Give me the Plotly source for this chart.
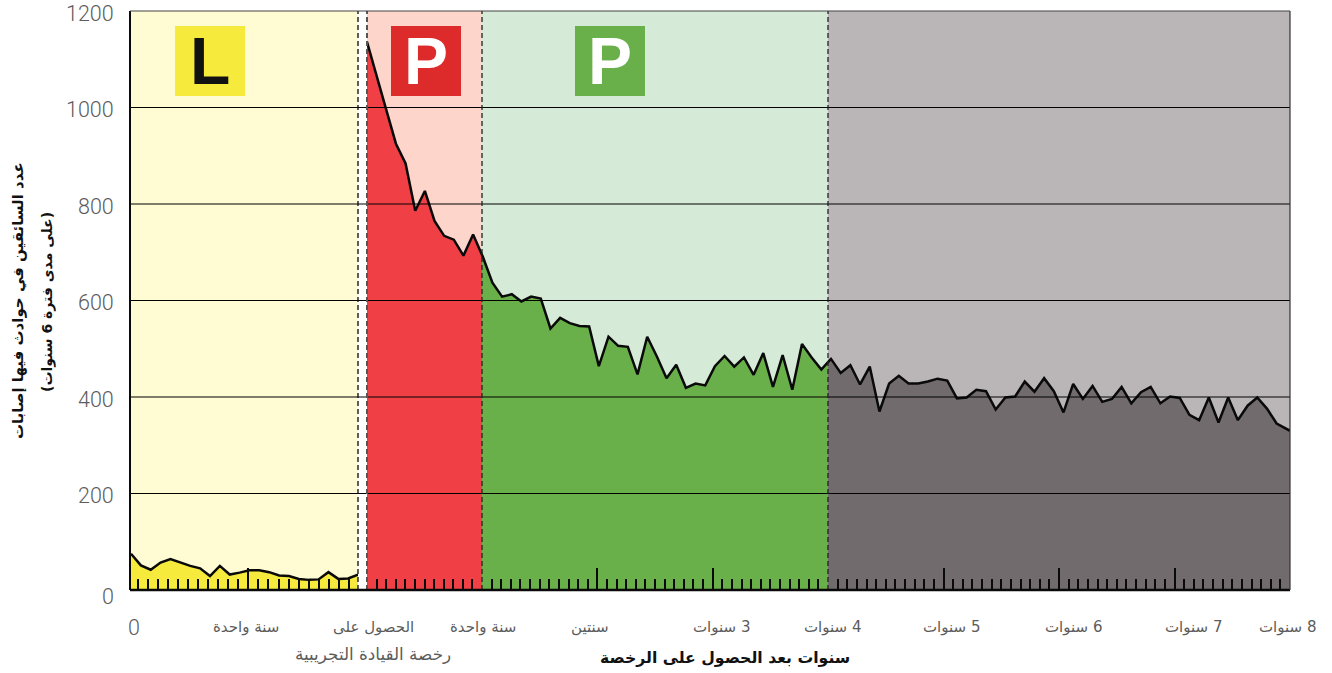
import plotly.graph_objects as go

# ---- data ----
learner_months = [0.34, 1.32, 2.30, 3.28, 4.26, 5.25, 6.23, 7.21, 8.19, 9.17, 10.15, 11.13,
                  12.11, 13.09, 14.07, 15.06, 16.04, 17.02, 18.00, 18.98, 19.96, 20.94, 21.92, 22.90]
learner_values = [75, 51, 42, 57, 64, 57, 50, 45, 29, 50, 32, 36,
                  41, 41, 37, 30, 29, 23, 21, 22, 37, 23, 24, 32]
licensed_values = [1136, 1068, 995, 925, 884, 786, 827, 765, 734, 726, 693, 737,
                   691, 637, 608, 613, 598, 608, 604, 542, 564, 553, 547, 546,
                   464, 525, 506, 504, 447, 525, 484, 439, 467, 419, 428, 424,
                   464, 485, 463, 482, 446, 491, 421, 487, 415, 510, 482, 457,
                   479, 450, 466, 426, 463, 370, 428, 444, 428, 428, 432, 438,
                   434, 397, 399, 415, 412, 374, 399, 401, 432, 411, 439, 412,
                   368, 427, 396, 423, 390, 396, 421, 387, 410, 421, 387, 401,
                   398, 363, 352, 399, 347, 399, 352, 382, 399, 376, 345, 330]
READING_STEP = 1.0065
licensed_months = [i * READING_STEP for i in range(len(licensed_values))]
licensed_months[-1] = 96

y_ticks = [0, 200, 400, 600, 800, 1000, 1200]
x_labels = ["0", "سنة واحدة", "الحصول على", "سنة واحدة", "سنتين", "3 سنوات", "4 سنوات",
            "5 سنوات", "6 سنوات", "7 سنوات", "8 سنوات"]
x_label_px = [134, 246, 373, 483, 590, 721, 832, 951, 1073, 1193, 1287]
x_label2 = "رخصة القيادة التجريبية"
x_title = "سنوات بعد الحصول على الرخصة"
y_title = "عدد السائقين في حوادث فيها إصابات"
y_title2 = "(على مدى فترة 6 سنوات)"

# ---- layout constants ----
W, H = 1332, 673
L, R, T, B = 130, 1290, 11, 590
PW, PH = R - L, B - T
px = lambda x: (x - L) / PW
py = lambda y: (B - y) / PH
rtl = lambda s: "\u202b" + s + "\u202c"

ARABIC = "DejaVu Sans"
LIGHT = "Roboto, Lato, sans-serif"
INK = "#5c5c5c"

zones = [
    dict(axis="x",  a=130, b=358, rng=[0.24, 22.9], bg="#FFFBD2", fill="#F6EB3C"),
    dict(axis="x2", a=367, b=482, rng=[0, 12],      bg="#FDD5CB", fill="#F04046"),
    dict(axis="x3", a=482, b=828, rng=[12, 48],     bg="#D6EAD8", fill="#6AB04A"),
    dict(axis="x4", a=828, b=1290, rng=[48, 96],    bg="#BAB6B7", fill="#716B6E"),
]

fig = go.Figure()
shapes, annotations = [], []

for i, z in enumerate(zones):
    xs, ys = (learner_months, learner_values) if i == 0 else (licensed_months, licensed_values)
    fig.add_trace(go.Scatter(x=xs, y=ys, xaxis=z["axis"], yaxis="y", mode="lines",
                             fill="tozeroy", fillcolor=z["fill"], showlegend=False,
                             line=dict(color="#0a0a0a", width=2.5), hoverinfo="skip"))
    shapes.append(dict(type="rect", xref="paper", yref="paper", x0=px(z["a"]), x1=px(z["b"]),
                       y0=0, y1=1, fillcolor=z["bg"], line_width=0, layer="below"))
    key = "xaxis" if i == 0 else f"xaxis{i + 1}"
    fig.layout[key] = dict(domain=[px(z["a"]), px(z["b"])], range=z["rng"], anchor="y",
                           showgrid=False, zeroline=False, showline=False, showticklabels=False,
                           ticks="inside", ticklen=22, tickwidth=1.6, tickcolor="#0a0a0a",
                           tick0=0, dtick=12,
                           minor=dict(ticks="inside", ticklen=11, tickwidth=1.6,
                                      tickcolor="#0a0a0a", dtick=1, tick0=0, showgrid=False))

# horizontal rules over the fills
for v in y_ticks[1:-1]:
    shapes.append(dict(type="line", xref="paper", yref="y", x0=0, x1=1, y0=v, y1=v,
                       line=dict(color="#000000", width=1.2), layer="above"))

# dashed zone borders
for x, c, w in [(358, "#0a0a0a", 1.3), (367, "#555555", 2), (482, "#222222", 1.3), (828, "#222222", 1.3)]:
    shapes.append(dict(type="line", xref="paper", yref="paper", x0=px(x), x1=px(x), y0=0, y1=1,
                       line=dict(color=c, width=w, dash="5px,3px"), layer="above"))

# frame
for x0, y0, x1, y1, c, w in [(L, B, R, B, "#0a0a0a", 2.5), (L, T, L, B, "#0a0a0a", 2),
                             (R, T, R, B, "#333333", 1.2), (L, T, R, T, "#444444", 1.2)]:
    shapes.append(dict(type="line", xref="paper", yref="paper", x0=px(x0), x1=px(x1),
                       y0=py(y0), y1=py(y1), line=dict(color=c, width=w), layer="above"))

# licence badges
for x0, bg, letter, col in [(175, "#F6EB3C", "L", "#111111"), (391, "#DD2A2A", "P", "#ffffff"),
                            (575, "#6AB04A", "P", "#ffffff")]:
    shapes.append(dict(type="rect", xref="paper", yref="paper", x0=px(x0), x1=px(x0 + 70),
                       y0=py(96), y1=py(26), fillcolor=bg, line_width=0, layer="above"))
    annotations.append(dict(xref="paper", yref="paper", x=px(x0 + 35), y=py(61), text=f"<b>{letter}</b>",
                            showarrow=False, xanchor="center", yanchor="middle",
                            font=dict(family="Liberation Sans", size=66, color=col)))

# y labels
for v in y_ticks:
    annotations.append(dict(xref="paper", yref="y", x=px(113), y=v, text=str(v), showarrow=False,
                            xanchor="right", yanchor="middle", yshift=-6 if v == 0 else -2,
                            borderpad=0, borderwidth=0, xshift=1,
                            font=dict(family=LIGHT, size=21.5, color=INK, weight=300)))

# x labels
for text, x in zip(x_labels, x_label_px):
    is_zero = text == "0"
    annotations.append(dict(xref="paper", yref="paper", x=px(x), y=py(627), text=rtl(text), showarrow=False,
                            xanchor="center", yanchor="middle",
                            font=dict(family=LIGHT if is_zero else ARABIC, size=21.5 if is_zero else 15,
                                      color=INK, weight=300 if is_zero else 400)))
annotations.append(dict(xref="paper", yref="paper", x=px(373), y=py(654), text=x_label2, showarrow=False,
                        xanchor="center", yanchor="middle", font=dict(family=ARABIC, size=16.8, color=INK)))
annotations.append(dict(xref="paper", yref="paper", x=px(725), y=py(657), text=f"<b>{x_title}</b>", showarrow=False,
                        xanchor="center", yanchor="middle", font=dict(family=ARABIC, size=15.7, color="#111111")))
annotations.append(dict(xref="paper", yref="paper", x=px(18), y=py(301), text=f"<b>{y_title}</b>", showarrow=False,
                        textangle=-90, xanchor="center", yanchor="middle",
                        font=dict(family=ARABIC, size=15, color="#111111")))
annotations.append(dict(xref="paper", yref="paper", x=px(47), y=py(302), text=f"<b>{rtl(y_title2)}</b>", showarrow=False,
                        textangle=-90, xanchor="center", yanchor="middle",
                        font=dict(family=ARABIC, size=14, color="#111111")))

fig.update_layout(
    width=W, height=H, margin=dict(l=L, r=W - R, t=T, b=H - B),
    paper_bgcolor="white", plot_bgcolor="white", showlegend=False,
    shapes=shapes, annotations=annotations,
    yaxis=dict(range=[0, 1200], tickvals=y_ticks, anchor="x", showgrid=False, zeroline=False,
               showline=False, ticks="", showticklabels=False),
)

fig.write_html("out.html", config={"displayModeBar": False},
               post_script="document.body.style.margin='0';")
